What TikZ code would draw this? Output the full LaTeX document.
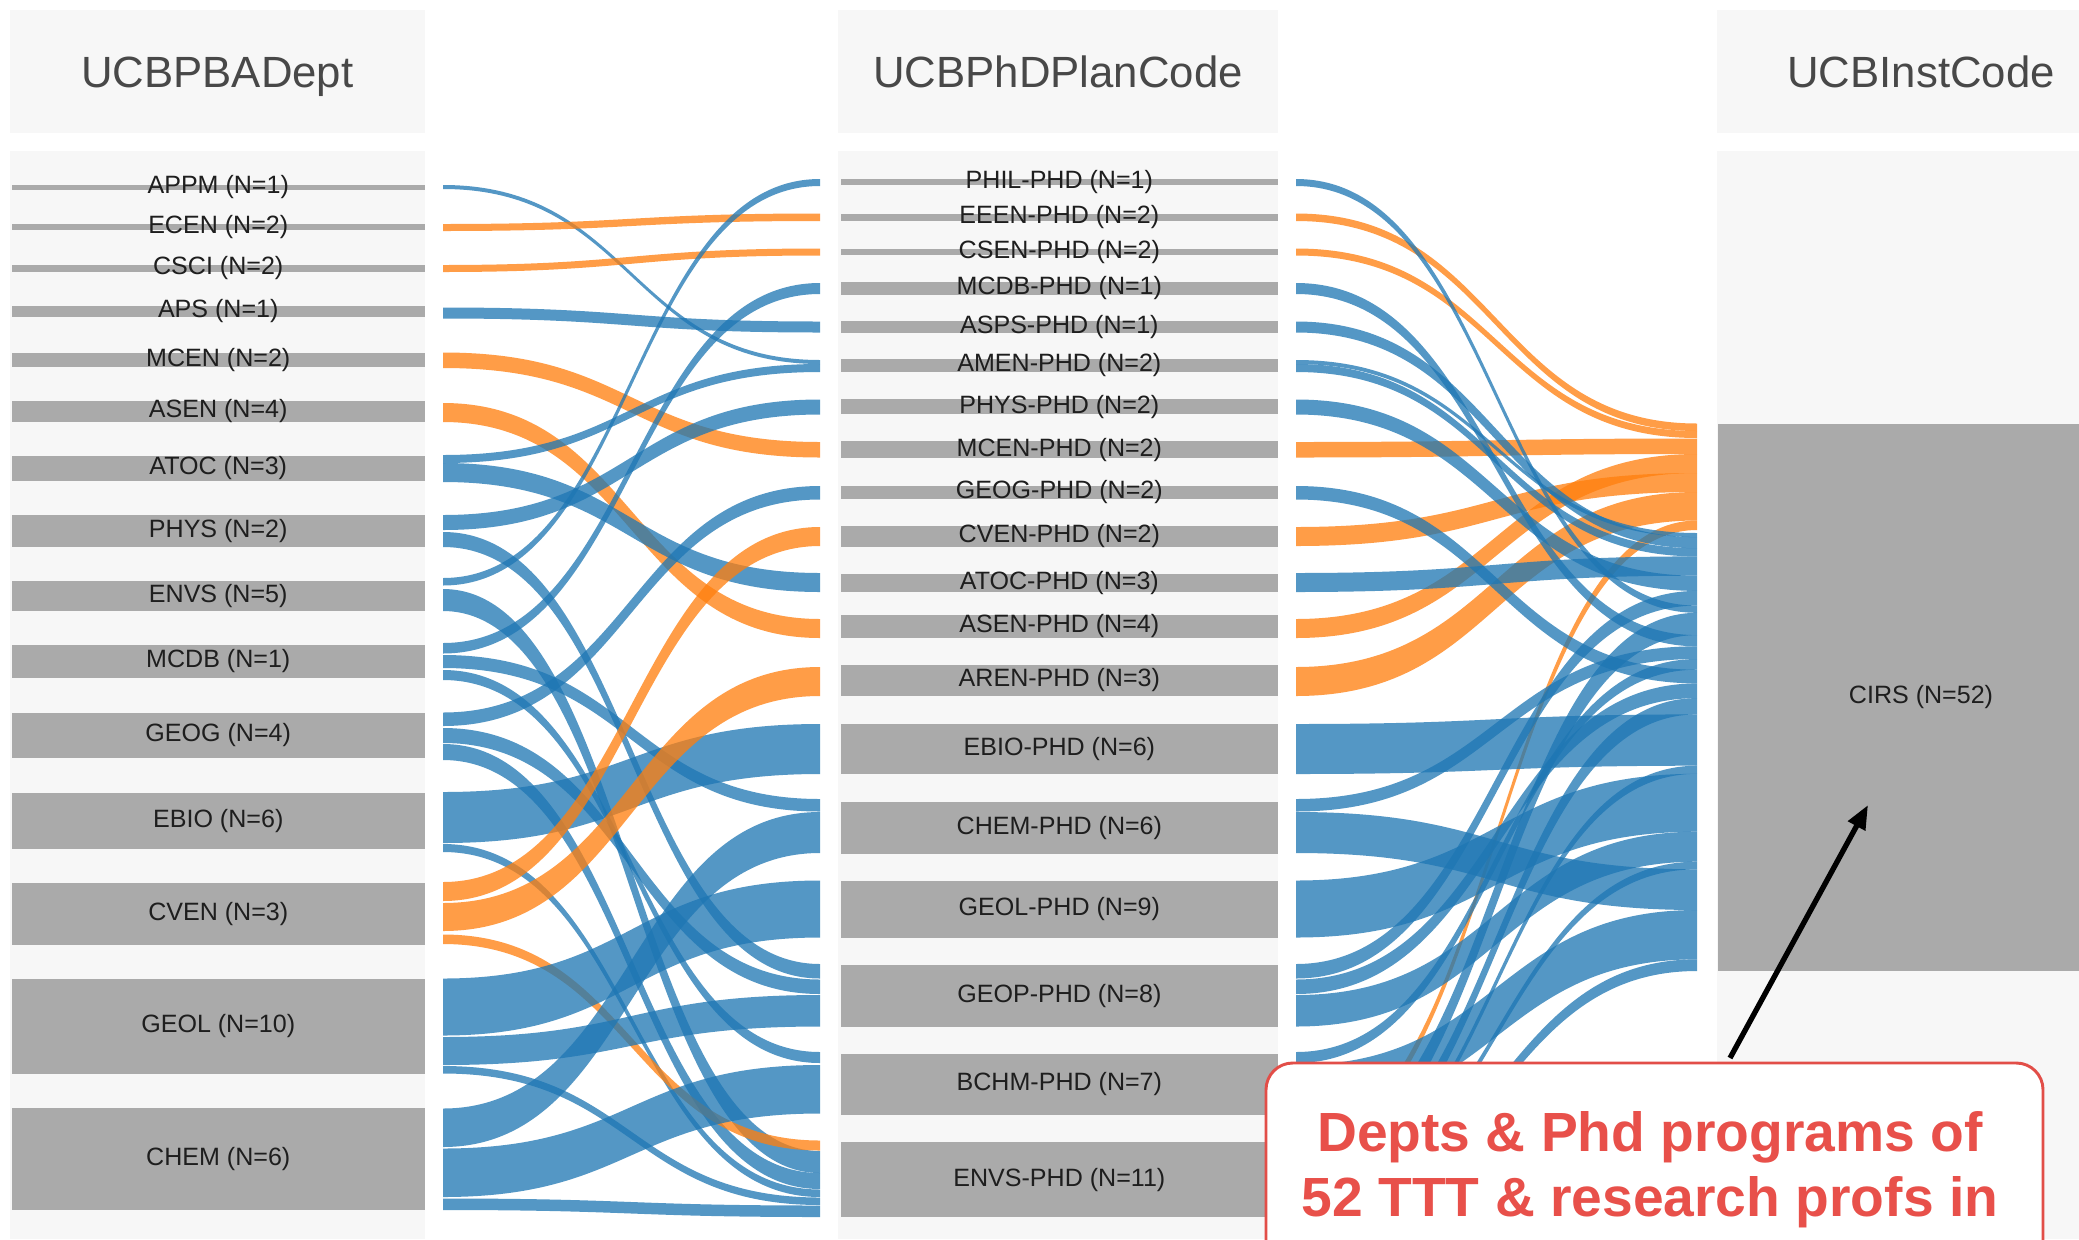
\documentclass[tikz,border=0pt]{standalone}
\usepackage{fontspec}
\setmainfont{Liberation Sans}
\usetikzlibrary{arrows.meta}
\definecolor{sblue}{HTML}{1F77B4}
\definecolor{sorange}{HTML}{FF7F0E}
\definecolor{panelc}{HTML}{F7F7F7}
\definecolor{barc}{HTML}{AAAAAA}
\definecolor{calred}{HTML}{E24E48}
\definecolor{caltext}{HTML}{E8504A}
\definecolor{hdrc}{HTML}{484848}
\definecolor{lblc}{HTML}{1E1E1E}
\tikzset{
  fb/.style={fill=sblue, fill opacity=0.76},
  fo/.style={fill=sorange, fill opacity=0.76},
  lbl/.style={inner sep=0pt, text=lblc, font=\fontsize{9.4}{11}\selectfont},
  hdr/.style={inner sep=0pt, anchor=base, text=hdrc, font=\fontsize{16.4}{19}\selectfont},
  calltxt/.style={inner sep=0pt, anchor=base, text=caltext, font=\bfseries\fontsize{20.7}{24}\selectfont},
}
% left ribbons: style, left top, left bottom, right top, right bottom
\newcommand{\sklink}[5]{\fill[#1] (443,#2) .. controls (631.5,#2) and (631.5,#4) .. (820,#4) -- (820,#5) .. controls (631.5,#5) and (631.5,#3) .. (443,#3) -- cycle;}
% right ribbons
\newcommand{\skrlink}[5]{\fill[#1] (1296,#2) .. controls (1496.5,#2) and (1496.5,#4) .. (1697,#4) -- (1697,#5) .. controls (1496.5,#5) and (1496.5,#3) .. (1296,#3) -- cycle;}
\newcommand{\lbar}[4]{\fill[barc] (11.8,#1) rectangle (424.7,#2); \node[lbl] (#3) at (218.25,{(#1+#2)/2}) {#4};}
\newcommand{\mbar}[4]{\fill[barc] (841,#1) rectangle (1277.7,#2); \node[lbl] (#3) at (1059.35,{(#1+#2)/2}) {#4};}
\begin{document}
\begin{tikzpicture}[x=0.375pt, y=-0.375pt]
\useasboundingbox (0,0) rectangle (2079,1239);
\clip (0,0) rectangle (2079,1239);
\fill[white] (0,0) rectangle (2079,1239);
% panels
\fill[panelc] (9.6,10) rectangle (425,133);
\fill[panelc] (9.6,151.4) rectangle (425,1239);
\fill[panelc] (838.4,10) rectangle (1277.7,133);
\fill[panelc] (838.4,151.4) rectangle (1277.7,1239);
\fill[panelc] (1717,10) rectangle (2079,133);
\fill[panelc] (1717,151.4) rectangle (2079,1239);
% headers
\node[hdr] (hdrA) at (217.3,87) {UCBPBADept};
\node[hdr] (hdrB) at (1058,87) {UCBPhDPlanCode};
\node[hdr] (hdrC) at (1921,87) {UCBInstCode};
% left nodes
\lbar{184.5}{190}{appm}{APPM (N=1)}
\lbar{224}{230}{ecen}{ECEN (N=2)}
\lbar{265}{271.5}{csci}{CSCI (N=2)}
\lbar{305.5}{316.7}{aps}{APS (N=1)}
\lbar{353}{367}{mcen}{MCEN (N=2)}
\lbar{401.3}{421.5}{asen}{ASEN (N=4)}
\lbar{455.5}{480.5}{atoc}{ATOC (N=3)}
\lbar{514.8}{546.5}{phys}{PHYS (N=2)}
\lbar{580.5}{610.5}{envs}{ENVS (N=5)}
\lbar{644.5}{678.4}{mcdb}{MCDB (N=1)}
\lbar{712.8}{757.8}{geog}{GEOG (N=4)}
\lbar{792.5}{849}{ebio}{EBIO (N=6)}
\lbar{883}{944.5}{cven}{CVEN (N=3)}
\lbar{978.5}{1074}{geol}{GEOL (N=10)}
\lbar{1108.4}{1210.2}{chem}{CHEM (N=6)}
% middle nodes
\mbar{178.7}{185.1}{philp}{PHIL-PHD (N=1)}
\mbar{213.5}{221.4}{eeenp}{EEEN-PHD (N=2)}
\mbar{249.1}{255.4}{csenp}{CSEN-PHD (N=2)}
\mbar{281.9}{294.6}{mcdbp}{MCDB-PHD (N=1)}
\mbar{321.1}{332.9}{aspsp}{ASPS-PHD (N=1)}
\mbar{359}{371.7}{amenp}{AMEN-PHD (N=2)}
\mbar{399.4}{414.4}{physp}{PHYS-PHD (N=2)}
\mbar{441.3}{457.9}{mcenp}{MCEN-PHD (N=2)}
\mbar{485.6}{499}{geogp}{GEOG-PHD (N=2)}
\mbar{525.9}{546.5}{cvenp}{CVEN-PHD (N=2)}
\mbar{574.1}{592.3}{atocp}{ATOC-PHD (N=3)}
\mbar{615}{638}{asenp}{ASEN-PHD (N=4)}
\mbar{664.6}{696.2}{arenp}{AREN-PHD (N=3)}
\mbar{723.8}{774}{ebiop}{EBIO-PHD (N=6)}
\mbar{801.6}{853.7}{chemp}{CHEM-PHD (N=6)}
\mbar{880.6}{937.8}{geolp}{GEOL-PHD (N=9)}
\mbar{964.7}{1026.6}{geopp}{GEOP-PHD (N=8)}
\mbar{1053.5}{1114.7}{bchmp}{BCHM-PHD (N=7)}
\mbar{1142.3}{1216.9}{envsp}{ENVS-PHD (N=11)}
% right node
\fill[barc] (1717.7,424) rectangle (2079,971.4);
\node[lbl] (cirs) at (1921,697) {CIRS (N=52)};
% left ribbons
\sklink{fb}{185}{189}{360}{364}
\sklink{fo}{224}{231}{213.5}{221}
\sklink{fo}{265}{272}{248.5}{255.5}
\sklink{fb}{307.5}{318.5}{321.5}{332.5}
\sklink{fo}{352.5}{368}{442}{457.5}
\sklink{fo}{403}{422}{619}{638}
\sklink{fb}{455}{463}{364}{372}
\sklink{fb}{463}{482}{573}{592}
\sklink{fb}{515}{530}{399.5}{414.5}
\sklink{fb}{532}{547}{964}{978.5}
\sklink{fb}{578}{585.5}{179}{186}
\sklink{fb}{589}{611}{1151}{1173}
\sklink{fb}{643}{653.5}{283}{294}
\sklink{fb}{655}{668}{799}{811.5}
\sklink{fb}{670}{680}{1052}{1063}
\sklink{fb}{712.5}{726}{486}{499.5}
\sklink{fb}{728}{743}{979.5}{994}
\sklink{fb}{744}{760}{1173}{1189}
\sklink{fb}{792}{843}{724}{774}
\sklink{fb}{844}{852}{1189.5}{1197}
\sklink{fo}{882}{901}{527}{546}
\sklink{fo}{903}{931}{667}{696}
\sklink{fo}{934.5}{944}{1140.5}{1150.5}
\sklink{fb}{978.5}{1035.5}{880.5}{937.5}
\sklink{fb}{1037}{1065}{995}{1026.5}
\sklink{fb}{1066}{1073.5}{1197.5}{1205}
\sklink{fb}{1108.5}{1147}{812}{853}
\sklink{fb}{1148.5}{1197}{1065}{1113.5}
\sklink{fb}{1198.5}{1210}{1205.5}{1217}
% right ribbons
\skrlink{fo}{213.5}{221}{423.5}{431}
\skrlink{fo}{248.5}{255.5}{431}{438}
\skrlink{fo}{442}{457.5}{438.5}{454}
\skrlink{fo}{619}{638}{454}{473}
\skrlink{fo}{527}{546}{473}{492}
\skrlink{fo}{667}{696}{492}{520.5}
\skrlink{fo}{1140.5}{1150.5}{520.5}{530}
\skrlink{fb}{360}{364}{533}{537.1}
\skrlink{fb}{321.5}{332.5}{537.1}{548.2}
\skrlink{fb}{364}{372}{548.2}{556.4}
\skrlink{fb}{573}{592}{556.4}{575.7}
\skrlink{fb}{399.5}{414.5}{575.7}{590.9}
\skrlink{fb}{964}{978.5}{590.9}{605.6}
\skrlink{fb}{179}{186}{605.6}{612.8}
\skrlink{fb}{1151}{1173}{612.8}{635.1}
\skrlink{fb}{283}{294}{635.1}{646.3}
\skrlink{fb}{799}{811.5}{646.3}{659}
\skrlink{fb}{1052}{1063}{659}{669.7}
\skrlink{fb}{486}{499.5}{669.7}{683.4}
\skrlink{fb}{979.5}{994}{683.4}{698.1}
\skrlink{fb}{1173}{1189}{698.1}{714.4}
\skrlink{fb}{724}{774}{714.4}{765.7}
\skrlink{fb}{1189.5}{1197}{765.7}{773.8}
\skrlink{fb}{880.5}{937.5}{773.8}{831.7}
\skrlink{fb}{995}{1026.5}{831.7}{861.7}
\skrlink{fb}{1197.5}{1205}{861.7}{869.3}
\skrlink{fb}{812}{853}{869.3}{910}
\skrlink{fb}{1065}{1113.5}{910}{959.3}
\skrlink{fb}{1205.5}{1217}{959.3}{971}
% callout
\draw[calred, line width=1.1pt, fill=white, rounded corners=10pt] (1266,1063) rectangle (2043,1300);
\node[calltxt] (call1) at (1650,1151.7) {Depts \& Phd programs of};
\node[calltxt] (call2) at (1650,1216.7) {52 TTT \& research profs in};
\coordinate (arrS) at (1730,1058);
\coordinate (arrT) at (1868,805);
\draw[line width=2pt, -{Triangle[length=9pt,width=7pt]}] (arrS) -- (arrT);
\end{tikzpicture}
\end{document}
